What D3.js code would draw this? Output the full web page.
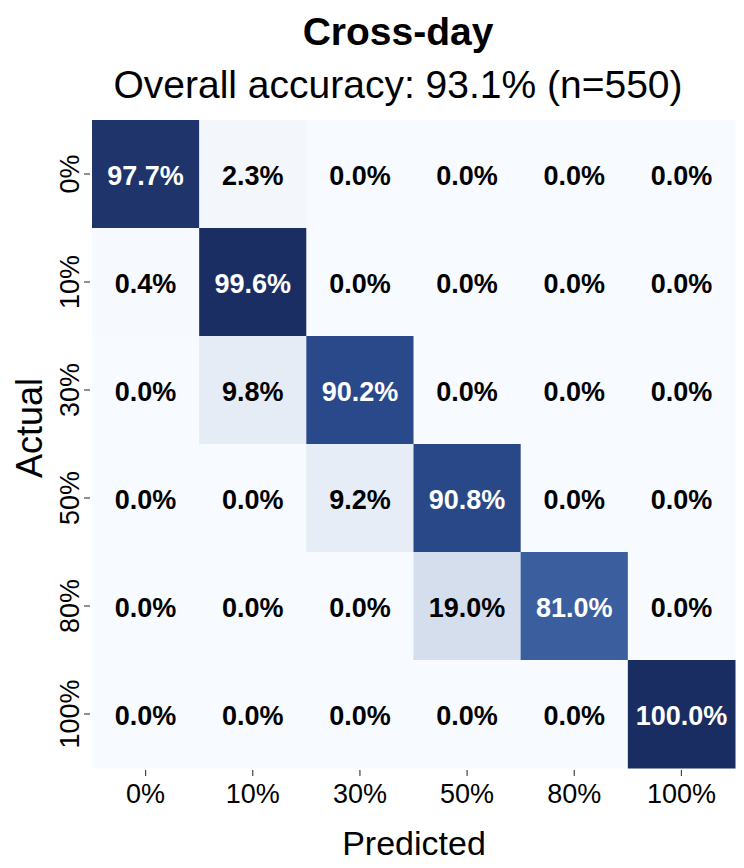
<!DOCTYPE html>
<html>
<head>
<meta charset="utf-8">
<script src="https://cdn.jsdelivr.net/npm/d3@7"></script>
<style>
  html, body { margin: 0; padding: 0; background: #ffffff; }
  svg { display: block; font-family: "Liberation Sans", Arial, Helvetica, sans-serif; }
</style>
</head>
<body>
<svg id="chart" width="744" height="868"></svg>
<script>
const predictedLabels = ["0%", "10%", "30%", "50%", "80%", "100%"];
const actualLabels = ["0%", "10%", "30%", "50%", "80%", "100%"];
const row0 = [97.7, 2.3, 0.0, 0.0, 0.0, 0.0];
const row10 = [0.4, 99.6, 0.0, 0.0, 0.0, 0.0];
const row30 = [0.0, 9.8, 90.2, 0.0, 0.0, 0.0];
const row50 = [0.0, 0.0, 9.2, 90.8, 0.0, 0.0];
const row80 = [0.0, 0.0, 0.0, 19.0, 81.0, 0.0];
const row100 = [0.0, 0.0, 0.0, 0.0, 0.0, 100.0];
const rows = [row0, row10, row30, row50, row80, row100];
const titleText = "Cross-day";
const subtitleText = "Overall accuracy: 93.1% (n=550)";

const cells = [];
rows.forEach((r, i) => r.forEach((v, j) => cells.push({ actual: actualLabels[i], predicted: predictedLabels[j], value: v })));

const svg = d3.select("#chart");
const mLeft = 92, mRight = 735, mTop = 120, mBottom = 768;

const x = d3.scaleBand().domain(predictedLabels).range([mLeft, mRight]).padding(0);
const y = d3.scaleBand().domain(actualLabels).range([mTop, mBottom]).padding(0);
const color = d3.scaleLinear()
  .domain([0, 2.3, 10, 19, 81, 90, 100])
  .range(["#f7faff", "#f3f7fc", "#e6ecf6", "#d5deed", "#3b5f9e", "#2a4a8b", "#1a2d62"])
  .clamp(true);

svg.append("g").selectAll("rect").data(cells).join("rect")
  .attr("x", d => x(d.predicted))
  .attr("y", d => y(d.actual))
  .attr("width", x.bandwidth() + 0.5)
  .attr("height", y.bandwidth() + 0.5)
  .attr("fill", d => color(d.value));

svg.append("g").selectAll("text").data(cells).join("text")
  .attr("x", d => x(d.predicted) + x.bandwidth() / 2)
  .attr("y", d => y(d.actual) + y.bandwidth() / 2 + 2)
  .attr("text-anchor", "middle")
  .attr("dominant-baseline", "central")
  .attr("font-size", 27)
  .attr("font-weight", "bold")
  .attr("fill", d => d.value > 50 ? "#ffffff" : "#000000")
  .text(d => d.value.toFixed(1) + "%");

// X axis
const xAxis = svg.append("g").attr("transform", `translate(0,${mBottom})`)
  .call(d3.axisBottom(x).tickSize(8).tickPadding(8));
xAxis.select(".domain").remove();
xAxis.selectAll(".tick line").attr("stroke", "#444").attr("stroke-width", 1.2).attr("y1", 2);
xAxis.selectAll(".tick text").attr("font-size", 27).attr("fill", "#000").attr("font-family", "Liberation Sans, Arial, sans-serif");

// Y axis
const yAxis = svg.append("g").attr("transform", `translate(${mLeft},0)`)
  .call(d3.axisLeft(y).tickSize(8).tickPadding(8));
yAxis.select(".domain").remove();
yAxis.selectAll(".tick line").attr("stroke", "#444").attr("stroke-width", 1.2).attr("x1", -2);
yAxis.selectAll(".tick text")
  .attr("font-size", 27).attr("fill", "#000").attr("font-family", "Liberation Sans, Arial, sans-serif")
  .attr("text-anchor", "middle")
  .attr("transform", "translate(-22,0) rotate(-90)")
  .attr("x", 0).attr("dy", "0.35em");

// Titles
svg.append("text").attr("x", 398).attr("y", 45).attr("text-anchor", "middle")
  .attr("font-size", 39).attr("font-weight", "bold").text(titleText);
svg.append("text").attr("x", 398).attr("y", 98).attr("text-anchor", "middle")
  .attr("font-size", 39).text(subtitleText);

svg.append("text").attr("x", 414).attr("y", 855).attr("text-anchor", "middle")
  .attr("font-size", 34).text("Predicted");
svg.append("text").attr("transform", "translate(42,428) rotate(-90)").attr("text-anchor", "middle")
  .attr("font-size", 36).text("Actual");
</script>
</body>
</html>
